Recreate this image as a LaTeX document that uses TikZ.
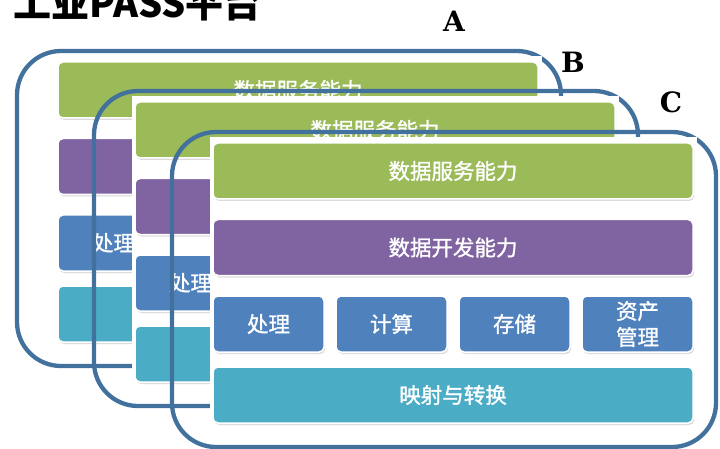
\documentclass[tikz,border=0pt]{standalone}
\usepackage{fontspec}
\newfontfamily\cjk{Noto Sans CJK SC}
\newfontfamily\cjkm[FakeBold=1.3]{Noto Sans CJK SC}
\newfontfamily\labfont{DejaVu Serif}
\usetikzlibrary{shadows}
\definecolor{lgreen}{RGB}{155,187,89}
\definecolor{lpurple}{RGB}{128,100,162}
\definecolor{lblue}{RGB}{79,129,189}
\definecolor{lcyan}{RGB}{75,172,198}
\definecolor{frameblue}{RGB}{65,113,156}
\tikzset{
  frameline/.style={draw=frameblue, line width=4.3pt, rounded corners=44pt},
  layer/.style={rounded corners=5pt, draw=white, line width=1.5pt, text=white,
    font=\cjkm\fontsize{21.5}{26}\selectfont, inner sep=0pt, align=center,
    drop shadow={shadow xshift=1.2pt, shadow yshift=-2pt, fill=black!30, opacity=0.45}},
  wide/.style={layer, minimum width=480pt, minimum height=56pt},
  cell/.style={layer, fill=lblue, minimum width=111pt, minimum height=56pt},
  lab/.style={font=\labfont\bfseries\fontsize{28}{28}\selectfont, inner sep=0pt, text=black},
}
\newcommand\drawpanel[3]{%
  \begin{scope}[shift={(#2,#3)}]
    \draw[frameline] (-41,-11) rectangle (503,304);
    \fill[white] (-3,-6) rectangle (484,286);
    \node[wide, fill=lgreen] (#1g) at (240,28) {数据服务能力};
    \node[wide, fill=lpurple] (#1p) at (240,104.5) {数据开发能力};
    \node[cell] (#1b1) at (55.5,181) {处理};
    \node[cell] (#1b2) at (178.5,181) {计算};
    \node[cell] (#1b3) at (301.5,181) {存储};
    \node[cell] (#1b4) at (424.5,181) {资产\\管理};
    \node[wide, fill=lcyan] (#1c) at (240,252) {映射与转换};
  \end{scope}}
\begin{document}
\begin{tikzpicture}[x=1pt,y=-1pt]
  \useasboundingbox (0,0) rectangle (720,449);
  \node[anchor=base west, inner sep=0pt, font=\cjk\bfseries\fontsize{38}{38}\selectfont] (title) at (13,18) {工业PASS平台};
  \drawpanel{A}{58}{62}
  \drawpanel{B}{135}{102}
  \drawpanel{C}{213}{143}
  \node[lab] (lA) at (454,21) {A};
  \node[lab] (lB) at (573,62) {B};
  \node[lab] (lC) at (671,102) {C};
\end{tikzpicture}
\end{document}
